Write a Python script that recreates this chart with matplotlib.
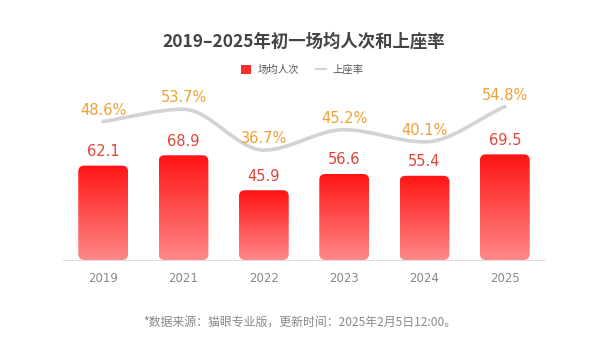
import numpy as np
import matplotlib
matplotlib.use("Agg")
import matplotlib.pyplot as plt
from matplotlib.patches import FancyBboxPatch, Patch
from matplotlib.lines import Line2D
from matplotlib.path import Path
from matplotlib.patches import PathPatch
from matplotlib.colors import LinearSegmentedColormap

plt.rcParams['font.family'] = ['Noto Sans CJK SC', 'DejaVu Sans']

# 数据
years = ['2019', '2021', '2022', '2023', '2024', '2025']
avg_people = [62.1, 68.9, 45.9, 56.6, 55.4, 69.5]     # 场均人次
occupancy = [48.6, 53.7, 36.7, 45.2, 40.1, 54.8]      # 上座率 (%)

title = '2019–2025年初一场均人次和上座率'
source = '*数据来源：猫眼专业版，更新时间：2025年2月5日12:00。'

W, H = 609, 342
fig = plt.figure(figsize=(W / 100, H / 100), dpi=100)
fig.patch.set_facecolor('white')

# 坐标区 (像素换算)
left, right, bottom, top = 63, 545, 260, 80
ax = fig.add_axes([left / W, 1 - bottom / H, (right - left) / W, (bottom - top) / H])
ax2 = ax.twinx()

x = np.arange(len(years))
ax.set_xlim(-0.5, len(years) - 0.5)
ax.set_ylim(0, (bottom - top) / 1.52)
ax2.set_ylim(-9.1, -9.1 + (bottom - top) / 2.4)

for a in (ax, ax2):
    for s in a.spines.values():
        s.set_visible(False)
    a.set_yticks([])
ax.spines['bottom'].set_visible(True)
ax.spines['bottom'].set_color('#dddddd')
ax.spines['bottom'].set_linewidth(0.8)
ax.set_xticks(x)
ax.set_xticklabels(years, color='#888888', fontsize=8.5, family=['DejaVu Sans'])
ax.tick_params(axis='x', length=0, pad=9)

# 渐变柱
cmap = LinearSegmentedColormap.from_list('bar', ['#ff8888', '#ff1414'])
grad = np.linspace(0, 1, 256).reshape(-1, 1)
bw = 0.62
px_x = (right - left) / len(years)
px_y = 1.52
radius_px = 6
for xi, v in zip(x, avg_people):
    patch = FancyBboxPatch((xi - bw / 2, 0), bw, v,
                           boxstyle='round,pad=0,rounding_size=%f' % (radius_px / px_x),
                           mutation_aspect=px_x / px_y,
                           facecolor='none', edgecolor='none')
    ax.add_patch(patch)
    im = ax.imshow(grad, cmap=cmap, aspect='auto', origin='lower',
                   extent=(xi - bw / 2, xi + bw / 2, 0, v), zorder=2)
    im.set_clip_path(patch)
    ax.text(xi, v + 4.3, f'{v:.1f}', ha='center', va='bottom',
            color='#e0453c', fontsize=10.5, family=['DejaVu Sans'])
ax.set_xlim(-0.5, len(years) - 0.5)
ax.set_ylim(0, (bottom - top) / 1.52)

# 平滑折线 (单调三次贝塞尔)
ys = np.array(occupancy)
d = np.diff(ys)
m = np.zeros(len(ys))
m[0] = d[0]
m[-1] = d[-1]
for i in range(1, len(ys) - 1):
    if d[i - 1] * d[i] > 0:
        m[i] = 2 / (1 / d[i - 1] + 1 / d[i])
verts = [(x[0], ys[0])]
codes = [Path.MOVETO]
for i in range(len(ys) - 1):
    verts += [(x[i] + 1 / 3, ys[i] + m[i] / 3),
              (x[i + 1] - 1 / 3, ys[i + 1] - m[i + 1] / 3),
              (x[i + 1], ys[i + 1])]
    codes += [Path.CURVE4] * 3
ax2.add_patch(PathPatch(Path(verts, codes), facecolor='none',
                        edgecolor='#d3d3d3', linewidth=2.6, zorder=3,
                        capstyle='round'))
for xi, v in zip(x, occupancy):
    ax2.text(xi, v + 1.6, f'{v:.1f}%', ha='center', va='bottom',
             color='#f0a035', fontsize=10.5, family=['DejaVu Sans'])

# 标题、图例、注释
fig.text(304 / W, 1 - 42 / H, title, ha='center', va='center',
         fontsize=12.5, fontweight='bold', color='#444444')
handles = [Patch(facecolor='#ff2a2a', edgecolor='none'),
           Line2D([0], [0], color='#d3d3d3', linewidth=1.5)]
fig.legend(handles, ['场均人次', '上座率'], loc='center', ncol=2,
           bbox_to_anchor=(302 / W, 1 - 70 / H), frameon=False,
           fontsize=7.5, labelcolor='#555555', handlelength=1.0,
           handleheight=0.9, columnspacing=1.6, handletextpad=0.6)
fig.text(300 / W, 1 - 322 / H, source, ha='center', va='center',
         fontsize=8.6, color='#888888')

fig.savefig('out.png', dpi=100, facecolor='white')
